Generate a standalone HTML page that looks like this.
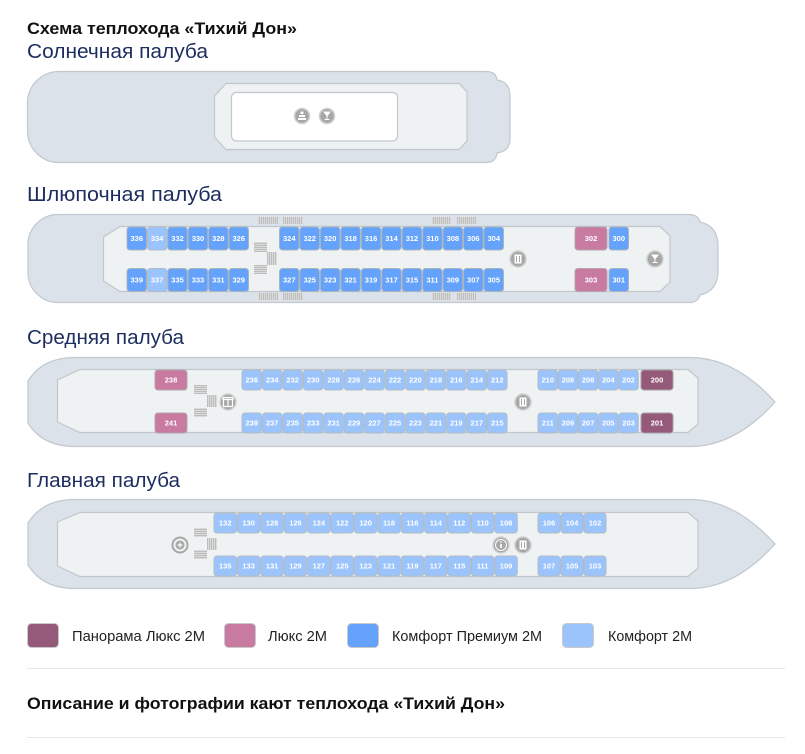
<!DOCTYPE html>
<html><head><meta charset="utf-8"><style>
html,body{margin:0;padding:0;background:#fff;}
svg{display:block;}
.ttl{font-family:"Liberation Sans",sans-serif;font-weight:bold;fill:#111;}
.dk{font-family:"Liberation Sans",sans-serif;fill:#1c2d5f;font-size:20px;}
.lg{font-family:"Liberation Sans",sans-serif;fill:#222;font-size:15px;}
.hull{fill:#dbe2e9;stroke:#c2c8ce;stroke-width:1.2;}
.deck{fill:#eef2f3;stroke:#c2c7cb;stroke-width:1.2;}
.P{fill:#64a2fb;stroke:#a9b4bf;stroke-width:1;}
.C{fill:#9cc4fc;stroke:#b2bcc6;stroke-width:1;}
.L{fill:#c97aa1;stroke:#b3a5ad;stroke-width:1;}
.X{fill:#955a7a;stroke:#a8a0a5;stroke-width:1;}
.t{font-family:"Liberation Sans",sans-serif;font-weight:bold;font-size:7.5px;fill:#fff;text-anchor:middle;}
.ic{fill:#a7a7a7;stroke:#d0d0d0;stroke-width:1.5;}
</style></head><body>
<svg width="805" height="754" viewBox="0 0 805 754" xmlns="http://www.w3.org/2000/svg">
<defs>
<pattern id="ph" width="4" height="2" patternUnits="userSpaceOnUse"><rect width="4" height="2" fill="#bdbdbd"/><rect width="4" height="1" fill="#dadada"/></pattern>
<pattern id="pv" width="2" height="4" patternUnits="userSpaceOnUse"><rect width="2" height="4" fill="#bdbdbd"/><rect width="1" height="4" fill="#dadada"/></pattern>
</defs>

<text class="ttl" x="27" y="34" font-size="17" textLength="270" lengthAdjust="spacingAndGlyphs">Схема теплохода «Тихий Дон»</text>

<!-- SUN DECK -->
<text class="dk" x="27" y="58" textLength="181" lengthAdjust="spacingAndGlyphs">Солнечная палуба</text>
<path class="hull" d="M59,71.5 H486 Q496,71.5 497,80 Q510,82 510,96 V139 Q510,151 497,153 Q496,162.5 486,162.5 H59 A31.5,31.5 0 0 1 27.5,131 V103 A31.5,31.5 0 0 1 59,71.5 Z"/>
<path class="deck" d="M226,83.5 H459 L467,92 V141 L459,149.5 H226 L214.5,137 V96 Z"/>
<rect x="231.5" y="92.5" width="166" height="48.5" rx="5" fill="#fff" stroke="#c2c7cb" stroke-width="1.2"/>
<circle class="ic" cx="302" cy="116" r="7.5"/>
<path d="M298,120 h8 v-2 h-8z M299,117 h6 v-2 h-6z M300.5,114 h3 v-2.5 h-3z" fill="#fff"/>
<circle class="ic" cx="327" cy="116" r="7.5"/>
<path d="M323,111.5 h8 l-3.5,4.5 v3 h2 v1 h-5 v-1 h2 v-3 z" fill="#fff"/>

<!-- BOAT DECK -->
<text class="dk" x="27" y="201" textLength="195" lengthAdjust="spacingAndGlyphs">Шлюпочная палуба</text>
<path class="hull" d="M58,214.5 H689 Q698,214.5 700,222 Q718,226 718,246 V271 Q718,291 700,295 Q698,302.5 689,302.5 H58 A30,30 0 0 1 28,272.5 V244.5 A30,30 0 0 1 58,214.5 Z"/>
<path class="deck" d="M120,226.5 H660 L670,236 V282 L660,291.5 H120 L103.5,281 V237 Z"/>
<rect x="258" y="217" width="20" height="7" fill="url(#pv)"/><rect x="283" y="217" width="20" height="7" fill="url(#pv)"/>
<rect x="432" y="217" width="19" height="7" fill="url(#pv)"/><rect x="457" y="217" width="19" height="7" fill="url(#pv)"/>
<rect x="258" y="293" width="20" height="7" fill="url(#pv)"/><rect x="283" y="293" width="20" height="7" fill="url(#pv)"/>
<rect x="432" y="293" width="19" height="7" fill="url(#pv)"/><rect x="457" y="293" width="19" height="7" fill="url(#pv)"/>
<rect x="254" y="242" width="13" height="10" fill="url(#ph)"/>
<rect x="267" y="252" width="10" height="13" fill="url(#pv)"/>
<rect x="254" y="265" width="13" height="9" fill="url(#ph)"/>
<circle class="ic" cx="518" cy="259" r="8"/>
<path d="M514.5,254.5 h7 v9 h-7z" fill="#fff"/><path d="M516.5,256 v6 M519.5,256 v6" stroke="#a7a7a7" stroke-width="1"/>
<circle class="ic" cx="655" cy="259" r="8"/>
<path d="M651,254.5 h8 l-3.5,4.5 v3 h2 v1 h-5 v-1 h2 v-3 z" fill="#fff"/>

<g>
<rect class="P" x="127" y="227" width="19.5" height="23" rx="3"/><text class="t" x="136.75" y="241.2">336</text>
<rect class="C" x="147.4" y="227" width="19.5" height="23" rx="3"/><text class="t" x="157.15" y="241.2">334</text>
<rect class="P" x="167.8" y="227" width="19.5" height="23" rx="3"/><text class="t" x="177.55" y="241.2">332</text>
<rect class="P" x="188.2" y="227" width="19.5" height="23" rx="3"/><text class="t" x="197.95" y="241.2">330</text>
<rect class="P" x="208.6" y="227" width="19.5" height="23" rx="3"/><text class="t" x="218.35" y="241.2">328</text>
<rect class="P" x="229" y="227" width="19.5" height="23" rx="3"/><text class="t" x="238.75" y="241.2">326</text>
<rect class="P" x="127" y="268.5" width="19.5" height="23" rx="3"/><text class="t" x="136.75" y="282.7">339</text>
<rect class="C" x="147.4" y="268.5" width="19.5" height="23" rx="3"/><text class="t" x="157.15" y="282.7">337</text>
<rect class="P" x="167.8" y="268.5" width="19.5" height="23" rx="3"/><text class="t" x="177.55" y="282.7">335</text>
<rect class="P" x="188.2" y="268.5" width="19.5" height="23" rx="3"/><text class="t" x="197.95" y="282.7">333</text>
<rect class="P" x="208.6" y="268.5" width="19.5" height="23" rx="3"/><text class="t" x="218.35" y="282.7">331</text>
<rect class="P" x="229" y="268.5" width="19.5" height="23" rx="3"/><text class="t" x="238.75" y="282.7">329</text>

<rect class="P" x="279.5" y="227" width="19.5" height="23" rx="3"/><text class="t" x="289.25" y="241.2">324</text>
<rect class="P" x="299.95" y="227" width="19.5" height="23" rx="3"/><text class="t" x="309.7" y="241.2">322</text>
<rect class="P" x="320.4" y="227" width="19.5" height="23" rx="3"/><text class="t" x="330.15" y="241.2">320</text>
<rect class="P" x="340.85" y="227" width="19.5" height="23" rx="3"/><text class="t" x="350.6" y="241.2">318</text>
<rect class="P" x="361.3" y="227" width="19.5" height="23" rx="3"/><text class="t" x="371.05" y="241.2">316</text>
<rect class="P" x="381.75" y="227" width="19.5" height="23" rx="3"/><text class="t" x="391.5" y="241.2">314</text>
<rect class="P" x="402.2" y="227" width="19.5" height="23" rx="3"/><text class="t" x="411.95" y="241.2">312</text>
<rect class="P" x="422.65" y="227" width="19.5" height="23" rx="3"/><text class="t" x="432.4" y="241.2">310</text>
<rect class="P" x="443.1" y="227" width="19.5" height="23" rx="3"/><text class="t" x="452.85" y="241.2">308</text>
<rect class="P" x="463.55" y="227" width="19.5" height="23" rx="3"/><text class="t" x="473.3" y="241.2">306</text>
<rect class="P" x="484" y="227" width="19.5" height="23" rx="3"/><text class="t" x="493.75" y="241.2">304</text>
<rect class="P" x="279.5" y="268.5" width="19.5" height="23" rx="3"/><text class="t" x="289.25" y="282.7">327</text>
<rect class="P" x="299.95" y="268.5" width="19.5" height="23" rx="3"/><text class="t" x="309.7" y="282.7">325</text>
<rect class="P" x="320.4" y="268.5" width="19.5" height="23" rx="3"/><text class="t" x="330.15" y="282.7">323</text>
<rect class="P" x="340.85" y="268.5" width="19.5" height="23" rx="3"/><text class="t" x="350.6" y="282.7">321</text>
<rect class="P" x="361.3" y="268.5" width="19.5" height="23" rx="3"/><text class="t" x="371.05" y="282.7">319</text>
<rect class="P" x="381.75" y="268.5" width="19.5" height="23" rx="3"/><text class="t" x="391.5" y="282.7">317</text>
<rect class="P" x="402.2" y="268.5" width="19.5" height="23" rx="3"/><text class="t" x="411.95" y="282.7">315</text>
<rect class="P" x="422.65" y="268.5" width="19.5" height="23" rx="3"/><text class="t" x="432.4" y="282.7">311</text>
<rect class="P" x="443.1" y="268.5" width="19.5" height="23" rx="3"/><text class="t" x="452.85" y="282.7">309</text>
<rect class="P" x="463.55" y="268.5" width="19.5" height="23" rx="3"/><text class="t" x="473.3" y="282.7">307</text>
<rect class="P" x="484" y="268.5" width="19.5" height="23" rx="3"/><text class="t" x="493.75" y="282.7">305</text>

<rect class="L" x="575" y="227" width="32" height="23" rx="3"/><text class="t" x="591" y="241.2">302</text>
<rect class="P" x="609" y="227" width="19.5" height="23" rx="3"/><text class="t" x="618.75" y="241.2">300</text>
<rect class="L" x="575" y="268.5" width="32" height="23" rx="3"/><text class="t" x="591" y="282.7">303</text>
<rect class="P" x="609" y="268.5" width="19.5" height="23" rx="3"/><text class="t" x="618.75" y="282.7">301</text>
</g>

<!-- MIDDLE DECK -->
<text class="dk" x="27" y="344" textLength="157" lengthAdjust="spacingAndGlyphs">Средняя палуба</text>
<path class="hull" d="M75,357.5 H690 Q735,357.5 775,402 Q735,446.5 690,446.5 H75 C50,446.5 36,436 28,423 V381 C36,368 50,357.5 75,357.5 Z"/>
<path class="deck" d="M80,369.5 H688 L698,378 V424 L688,432.5 H80 L57.5,422 V380 Z"/>
<rect x="194" y="385" width="13" height="9" fill="url(#ph)"/>
<rect x="207" y="395" width="10" height="12" fill="url(#pv)"/>
<rect x="194" y="408" width="13" height="9" fill="url(#ph)"/>
<circle class="ic" cx="228" cy="402" r="8"/>
<path d="M223.5,399.5 h9 v7 h-9z M223,397.5 h10 v2 h-10z" fill="none" stroke="#fff" stroke-width="1.2"/><path d="M228,397.5 v9" stroke="#fff" stroke-width="1.2"/>
<circle class="ic" cx="523" cy="402" r="8"/>
<path d="M519.5,397.5 h7 v9 h-7z" fill="#fff"/><path d="M521.5,399 v6 M524.5,399 v6" stroke="#a7a7a7" stroke-width="1"/>

<g>
<rect class="L" x="155" y="370" width="32" height="20" rx="3"/><text class="t" x="171" y="382.7">238</text>
<rect class="L" x="155" y="413" width="32" height="20" rx="3"/><text class="t" x="171" y="425.7">241</text>

<rect class="C" x="242" y="370" width="19.5" height="20" rx="3"/><text class="t" x="251.75" y="382.7">236</text>
<rect class="C" x="262.46" y="370" width="19.5" height="20" rx="3"/><text class="t" x="272.21" y="382.7">234</text>
<rect class="C" x="282.92" y="370" width="19.5" height="20" rx="3"/><text class="t" x="292.67" y="382.7">232</text>
<rect class="C" x="303.38" y="370" width="19.5" height="20" rx="3"/><text class="t" x="313.13" y="382.7">230</text>
<rect class="C" x="323.84" y="370" width="19.5" height="20" rx="3"/><text class="t" x="333.59" y="382.7">228</text>
<rect class="C" x="344.3" y="370" width="19.5" height="20" rx="3"/><text class="t" x="354.05" y="382.7">226</text>
<rect class="C" x="364.76" y="370" width="19.5" height="20" rx="3"/><text class="t" x="374.51" y="382.7">224</text>
<rect class="C" x="385.22" y="370" width="19.5" height="20" rx="3"/><text class="t" x="394.97" y="382.7">222</text>
<rect class="C" x="405.68" y="370" width="19.5" height="20" rx="3"/><text class="t" x="415.43" y="382.7">220</text>
<rect class="C" x="426.14" y="370" width="19.5" height="20" rx="3"/><text class="t" x="435.89" y="382.7">218</text>
<rect class="C" x="446.6" y="370" width="19.5" height="20" rx="3"/><text class="t" x="456.35" y="382.7">216</text>
<rect class="C" x="467.06" y="370" width="19.5" height="20" rx="3"/><text class="t" x="476.81" y="382.7">214</text>
<rect class="C" x="487.52" y="370" width="19.5" height="20" rx="3"/><text class="t" x="497.27" y="382.7">212</text>

<rect class="C" x="242" y="413" width="19.5" height="20" rx="3"/><text class="t" x="251.75" y="425.7">239</text>
<rect class="C" x="262.46" y="413" width="19.5" height="20" rx="3"/><text class="t" x="272.21" y="425.7">237</text>
<rect class="C" x="282.92" y="413" width="19.5" height="20" rx="3"/><text class="t" x="292.67" y="425.7">235</text>
<rect class="C" x="303.38" y="413" width="19.5" height="20" rx="3"/><text class="t" x="313.13" y="425.7">233</text>
<rect class="C" x="323.84" y="413" width="19.5" height="20" rx="3"/><text class="t" x="333.59" y="425.7">231</text>
<rect class="C" x="344.3" y="413" width="19.5" height="20" rx="3"/><text class="t" x="354.05" y="425.7">229</text>
<rect class="C" x="364.76" y="413" width="19.5" height="20" rx="3"/><text class="t" x="374.51" y="425.7">227</text>
<rect class="C" x="385.22" y="413" width="19.5" height="20" rx="3"/><text class="t" x="394.97" y="425.7">225</text>
<rect class="C" x="405.68" y="413" width="19.5" height="20" rx="3"/><text class="t" x="415.43" y="425.7">223</text>
<rect class="C" x="426.14" y="413" width="19.5" height="20" rx="3"/><text class="t" x="435.89" y="425.7">221</text>
<rect class="C" x="446.6" y="413" width="19.5" height="20" rx="3"/><text class="t" x="456.35" y="425.7">219</text>
<rect class="C" x="467.06" y="413" width="19.5" height="20" rx="3"/><text class="t" x="476.81" y="425.7">217</text>
<rect class="C" x="487.52" y="413" width="19.5" height="20" rx="3"/><text class="t" x="497.27" y="425.7">215</text>

<rect class="C" x="538" y="370" width="19.5" height="20" rx="3"/><text class="t" x="547.75" y="382.7">210</text>
<rect class="C" x="558.2" y="370" width="19.5" height="20" rx="3"/><text class="t" x="567.95" y="382.7">208</text>
<rect class="C" x="578.4" y="370" width="19.5" height="20" rx="3"/><text class="t" x="588.15" y="382.7">206</text>
<rect class="C" x="598.6" y="370" width="19.5" height="20" rx="3"/><text class="t" x="608.35" y="382.7">204</text>
<rect class="C" x="618.8" y="370" width="19.5" height="20" rx="3"/><text class="t" x="628.55" y="382.7">202</text>
<rect class="X" x="641" y="370" width="32" height="20" rx="3"/><text class="t" x="657" y="382.7">200</text>
<rect class="C" x="538" y="413" width="19.5" height="20" rx="3"/><text class="t" x="547.75" y="425.7">211</text>
<rect class="C" x="558.2" y="413" width="19.5" height="20" rx="3"/><text class="t" x="567.95" y="425.7">209</text>
<rect class="C" x="578.4" y="413" width="19.5" height="20" rx="3"/><text class="t" x="588.15" y="425.7">207</text>
<rect class="C" x="598.6" y="413" width="19.5" height="20" rx="3"/><text class="t" x="608.35" y="425.7">205</text>
<rect class="C" x="618.8" y="413" width="19.5" height="20" rx="3"/><text class="t" x="628.55" y="425.7">203</text>
<rect class="X" x="641" y="413" width="32" height="20" rx="3"/><text class="t" x="657" y="425.7">201</text>
</g>

<!-- MAIN DECK -->
<text class="dk" x="27" y="487" textLength="153" lengthAdjust="spacingAndGlyphs">Главная палуба</text>
<path class="hull" d="M75,499.5 H690 Q735,499.5 775,544 Q735,588.5 690,588.5 H75 C50,588.5 36,578 28,565 V523 C36,510 50,499.5 75,499.5 Z"/>
<path class="deck" d="M80,512.5 H688 L698,521 V568 L688,576.5 H80 L57.5,566 V522 Z"/>
<rect x="194" y="528" width="13" height="9" fill="url(#ph)"/>
<rect x="207" y="538" width="10" height="12" fill="url(#pv)"/>
<rect x="194" y="550" width="13" height="9" fill="url(#ph)"/>
<circle cx="180" cy="545" r="7.5" fill="none" stroke="#a7a7a7" stroke-width="2"/>
<circle cx="180" cy="545" r="4.5" fill="#a7a7a7"/>
<path d="M180,542.5 v5 M177.5,545 h5" stroke="#fff" stroke-width="1.2"/>
<circle class="ic" cx="501" cy="545" r="8"/>
<circle cx="501" cy="545" r="5.5" fill="none" stroke="#fff" stroke-width="1"/>
<path d="M501,544 v4" stroke="#fff" stroke-width="1.6"/><circle cx="501" cy="542" r="0.9" fill="#fff"/>
<circle class="ic" cx="523" cy="545" r="8"/>
<path d="M519.5,540.5 h7 v9 h-7z" fill="#fff"/><path d="M521.5,542 v6 M524.5,542 v6" stroke="#a7a7a7" stroke-width="1"/>

<g>
<rect class="C" x="214" y="513" width="22.5" height="20" rx="3"/><text class="t" x="225.25" y="525.7">132</text>
<rect class="C" x="237.4" y="513" width="22.5" height="20" rx="3"/><text class="t" x="248.65" y="525.7">130</text>
<rect class="C" x="260.8" y="513" width="22.5" height="20" rx="3"/><text class="t" x="272.05" y="525.7">128</text>
<rect class="C" x="284.2" y="513" width="22.5" height="20" rx="3"/><text class="t" x="295.45" y="525.7">126</text>
<rect class="C" x="307.6" y="513" width="22.5" height="20" rx="3"/><text class="t" x="318.85" y="525.7">124</text>
<rect class="C" x="331" y="513" width="22.5" height="20" rx="3"/><text class="t" x="342.25" y="525.7">122</text>
<rect class="C" x="354.4" y="513" width="22.5" height="20" rx="3"/><text class="t" x="365.65" y="525.7">120</text>
<rect class="C" x="377.8" y="513" width="22.5" height="20" rx="3"/><text class="t" x="389.05" y="525.7">118</text>
<rect class="C" x="401.2" y="513" width="22.5" height="20" rx="3"/><text class="t" x="412.45" y="525.7">116</text>
<rect class="C" x="424.6" y="513" width="22.5" height="20" rx="3"/><text class="t" x="435.85" y="525.7">114</text>
<rect class="C" x="448" y="513" width="22.5" height="20" rx="3"/><text class="t" x="459.25" y="525.7">112</text>
<rect class="C" x="471.4" y="513" width="22.5" height="20" rx="3"/><text class="t" x="482.65" y="525.7">110</text>
<rect class="C" x="494.8" y="513" width="22.5" height="20" rx="3"/><text class="t" x="506.05" y="525.7">108</text>

<rect class="C" x="214" y="556" width="22.5" height="20" rx="3"/><text class="t" x="225.25" y="568.7">135</text>
<rect class="C" x="237.4" y="556" width="22.5" height="20" rx="3"/><text class="t" x="248.65" y="568.7">133</text>
<rect class="C" x="260.8" y="556" width="22.5" height="20" rx="3"/><text class="t" x="272.05" y="568.7">131</text>
<rect class="C" x="284.2" y="556" width="22.5" height="20" rx="3"/><text class="t" x="295.45" y="568.7">129</text>
<rect class="C" x="307.6" y="556" width="22.5" height="20" rx="3"/><text class="t" x="318.85" y="568.7">127</text>
<rect class="C" x="331" y="556" width="22.5" height="20" rx="3"/><text class="t" x="342.25" y="568.7">125</text>
<rect class="C" x="354.4" y="556" width="22.5" height="20" rx="3"/><text class="t" x="365.65" y="568.7">123</text>
<rect class="C" x="377.8" y="556" width="22.5" height="20" rx="3"/><text class="t" x="389.05" y="568.7">121</text>
<rect class="C" x="401.2" y="556" width="22.5" height="20" rx="3"/><text class="t" x="412.45" y="568.7">119</text>
<rect class="C" x="424.6" y="556" width="22.5" height="20" rx="3"/><text class="t" x="435.85" y="568.7">117</text>
<rect class="C" x="448" y="556" width="22.5" height="20" rx="3"/><text class="t" x="459.25" y="568.7">115</text>
<rect class="C" x="471.4" y="556" width="22.5" height="20" rx="3"/><text class="t" x="482.65" y="568.7">111</text>
<rect class="C" x="494.8" y="556" width="22.5" height="20" rx="3"/><text class="t" x="506.05" y="568.7">109</text>

<rect class="C" x="538" y="513" width="22" height="20" rx="3"/><text class="t" x="549" y="525.7">106</text>
<rect class="C" x="561" y="513" width="22" height="20" rx="3"/><text class="t" x="572" y="525.7">104</text>
<rect class="C" x="584" y="513" width="22" height="20" rx="3"/><text class="t" x="595" y="525.7">102</text>
<rect class="C" x="538" y="556" width="22" height="20" rx="3"/><text class="t" x="549" y="568.7">107</text>
<rect class="C" x="561" y="556" width="22" height="20" rx="3"/><text class="t" x="572" y="568.7">105</text>
<rect class="C" x="584" y="556" width="22" height="20" rx="3"/><text class="t" x="595" y="568.7">103</text>
</g>

<!-- LEGEND -->
<rect x="27.5" y="623.5" width="31" height="24" rx="4" fill="#955a7a" stroke="#c8c8c8"/>
<text class="lg" x="72" y="641" textLength="133" lengthAdjust="spacingAndGlyphs">Панорама Люкс 2М</text>
<rect x="224.5" y="623.5" width="31" height="24" rx="4" fill="#c97aa1" stroke="#c8c8c8"/>
<text class="lg" x="268" y="641" textLength="59" lengthAdjust="spacingAndGlyphs">Люкс 2М</text>
<rect x="347.5" y="623.5" width="31" height="24" rx="4" fill="#64a2fb" stroke="#c8c8c8"/>
<text class="lg" x="392" y="641" textLength="150" lengthAdjust="spacingAndGlyphs">Комфорт Премиум 2М</text>
<rect x="562.5" y="623.5" width="31" height="24" rx="4" fill="#9cc4fc" stroke="#c8c8c8"/>
<text class="lg" x="608" y="641" textLength="84" lengthAdjust="spacingAndGlyphs">Комфорт 2М</text>

<rect x="27" y="668" width="758" height="1" fill="#e7e7e7"/>
<text class="ttl" x="27" y="709" font-size="17" textLength="478" lengthAdjust="spacingAndGlyphs">Описание и фотографии кают теплохода «Тихий Дон»</text>
<rect x="27" y="737" width="758" height="1" fill="#e7e7e7"/>
</svg>
</body></html>
